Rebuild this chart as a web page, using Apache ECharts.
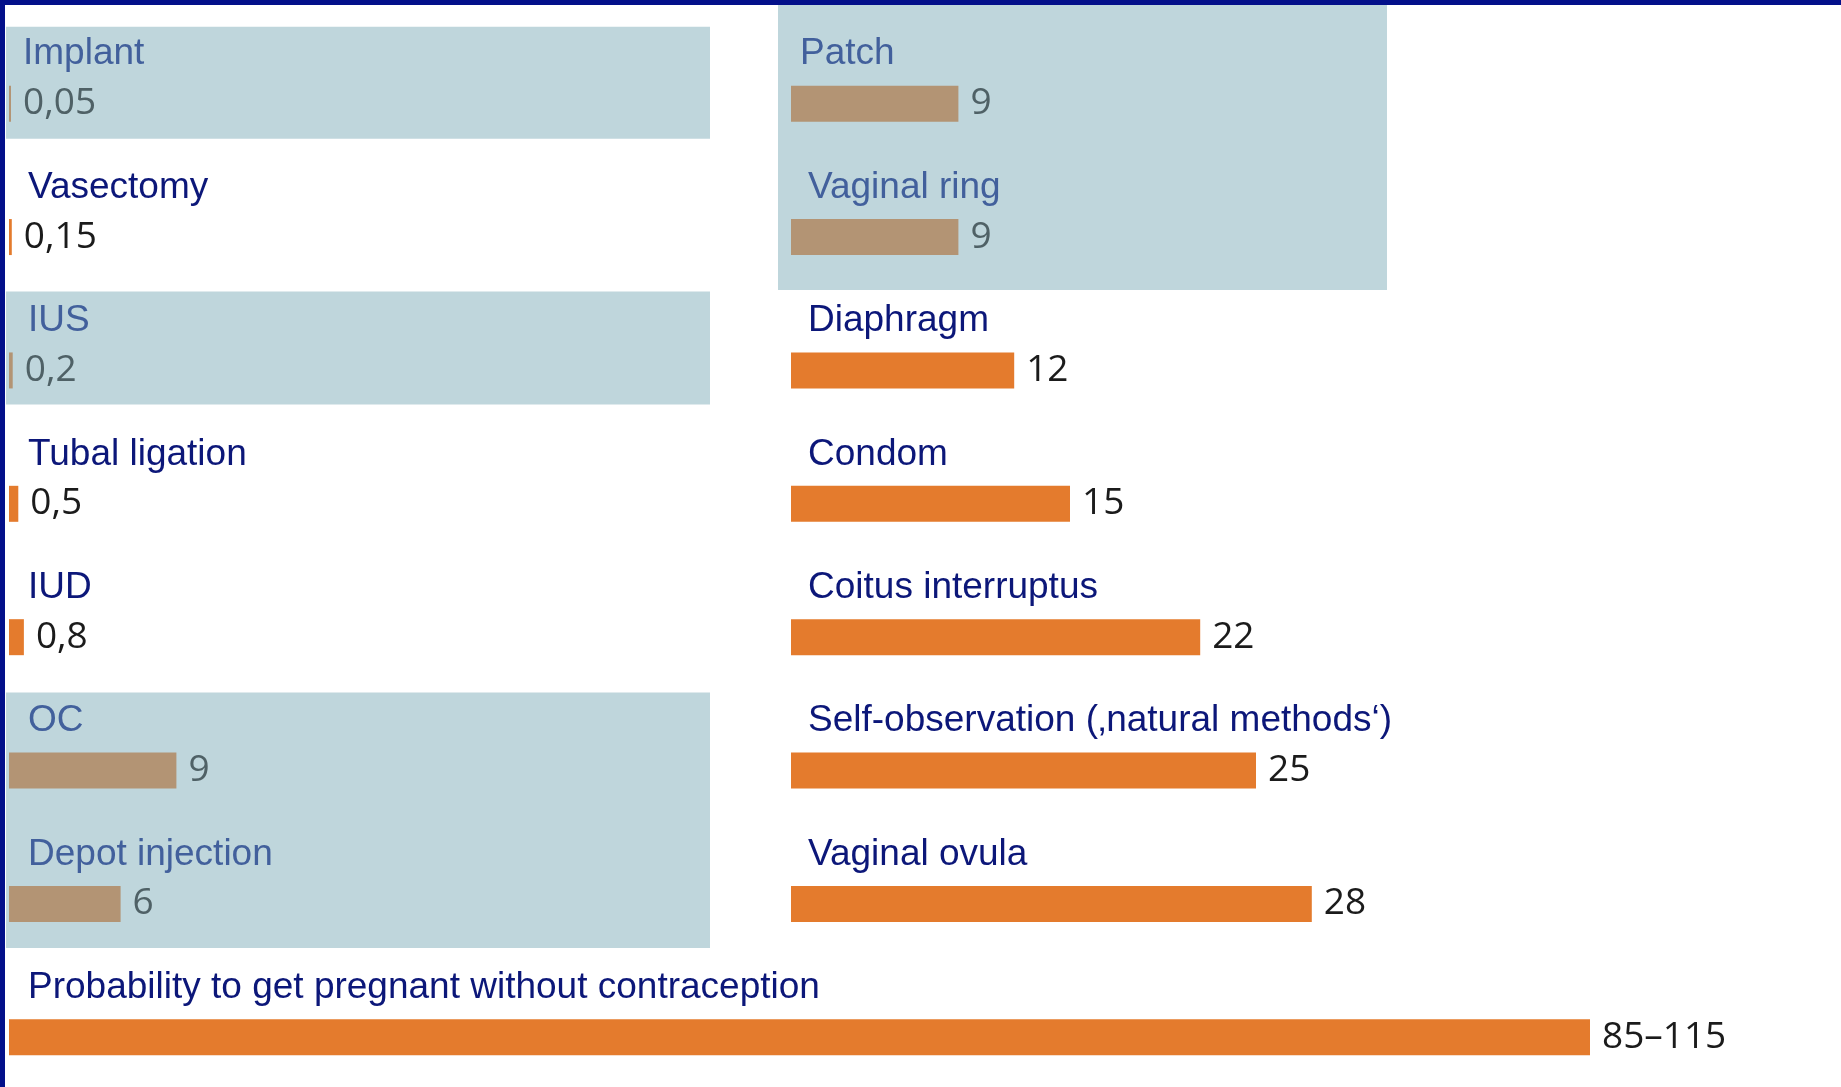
<!DOCTYPE html>
<html>
<head>
<meta charset="utf-8">
<script src="https://cdn.jsdelivr.net/npm/echarts@6/dist/echarts.min.js"></script>
<style>
  html, body { margin: 0; padding: 0; background: #fff; }
  #chart { width: 1841px; height: 1087px; }
</style>
</head>
<body>
<div id="chart"></div>
<script>
// Pearl index per method
const leftMethods = ["Implant", "Vasectomy", "IUS", "Tubal ligation", "IUD", "OC", "Depot injection",
  "Probability to get pregnant without contraception"];
const leftValues = [0.05, 0.15, 0.2, 0.5, 0.8, 9, 6, 85];
const leftValueText = ["0,05", "0,15", "0,2", "0,5", "0,8", "9", "6", "85–115"];

const rightMethods = ["Patch", "Vaginal ring", "Diaphragm", "Condom", "Coitus interruptus",
  "Self-observation (‚natural methods‘)", "Vaginal ovula"];
const rightValues = [9, 9, 12, 15, 22, 25, 28];
const rightValueText = ["9", "9", "12", "15", "22", "25", "28"];

// methods drawn on the light blue background
const hormonalMethods = ["Implant", "IUS", "OC", "Depot injection", "Patch", "Vaginal ring"];

const ORANGE = "#e47b2d";
const TAN = "#b39474";
const BAND = "#bfd6dc";
const NAVY = "#0c1779";
const MUTED = "#42609c";
const FONT = "Liberation Sans, Arial";

// background bands (pixel padding around the rows they cover)
const bands = [
  { axis: 0, first: "Implant", last: "Implant", x0: 6, x1: 710, above: 77, below: 35 },
  { axis: 0, first: "IUS", last: "IUS", x0: 6, x1: 710, above: 79, below: 34 },
  { axis: 0, first: "OC", last: "Depot injection", x0: 6, x1: 710, above: 78, below: 44 },
  { axis: 1, first: "Patch", last: "Vaginal ring", x0: 778, x1: 1387, above: 99, below: 53 },
];

const isHormonal = (name) => hormonalMethods.indexOf(name) >= 0;

const buildData = (names, values) =>
  values.map((v, i) => ({
    value: v,
    itemStyle: { color: isHormonal(names[i]) ? TAN : ORANGE },
    label: { color: isHormonal(names[i]) ? "#4f6166" : "#1b1b1b" },
  }));

// first label of each column sits a little further left than the rest
const categoryAxis = (index, names, margin, shift) => ({
  type: "category",
  gridIndex: index,
  data: names,
  inverse: true,
  axisLine: { show: false },
  axisTick: { show: false },
  splitLine: { show: false },
  axisLabel: {
    inside: true,
    interval: 0,
    margin: margin,
    align: "left",
    verticalAlign: "bottom",
    padding: [0, 0, 31, 0],
    formatter: (name, i) => {
      const style = (isHormonal(name) ? "h" : "n") + (i === 0 ? "0" : "");
      return "{" + style + "|" + name + "}";
    },
    rich: {
      h0: { color: MUTED, fontSize: 37, fontFamily: FONT },
      h: { color: MUTED, fontSize: 37, fontFamily: FONT, padding: [0, 0, 0, shift] },
      n0: { color: NAVY, fontSize: 37, fontFamily: FONT },
      n: { color: NAVY, fontSize: 37, fontFamily: FONT, padding: [0, 0, 0, shift] },
    },
  },
});

const valueLabel = (texts) => ({
  show: true,
  position: "right",
  distance: 12,
  fontSize: 37,
  fontFamily: "Open Sans",
  formatter: (p) => texts[p.dataIndex] || "",
});

const option = {
  animation: false,
  backgroundColor: "#ffffff",
  grid: [
    { left: 9, top: 37, width: 1767, height: 1067, outerBoundsMode: "none" },
    { left: 791, top: 37, width: 930, height: 1067, outerBoundsMode: "none" },
  ],
  xAxis: [
    { type: "value", gridIndex: 0, min: 0, max: 95, show: false },
    { type: "value", gridIndex: 1, min: 0, max: 50, show: false },
  ],
  yAxis: [
    categoryAxis(0, leftMethods, 14, 5),
    categoryAxis(1, rightMethods.concat([""]), 9, 8),
  ],
  series: [
    {
      type: "bar",
      xAxisIndex: 0,
      yAxisIndex: 0,
      barWidth: 36,
      barMinHeight: 2,
      data: buildData(leftMethods, leftValues),
      label: valueLabel(leftValueText),
    },
    {
      type: "bar",
      xAxisIndex: 1,
      yAxisIndex: 1,
      barWidth: 36,
      data: buildData(rightMethods, rightValues),
      label: valueLabel(rightValueText),
    },
  ],
};

const chart = echarts.init(document.getElementById("chart"));
chart.setOption(option);

const drawBands = () => {
  const rects = bands.map((b) => {
    const y0 = Math.max(chart.convertToPixel({ yAxisIndex: b.axis }, b.first) - b.above, 0);
    const y1 = chart.convertToPixel({ yAxisIndex: b.axis }, b.last) + b.below;
    return {
      type: "rect",
      z: -10,
      silent: true,
      shape: { x: b.x0, y: y0, width: b.x1 - b.x0, height: y1 - y0 },
      style: { fill: BAND },
    };
  });
  // dark blue frame on top and left
  rects.push({ type: "rect", z: 10, shape: { x: 0, y: 0, width: 1841, height: 5 }, style: { fill: "#03108a" } });
  rects.push({ type: "rect", z: 10, shape: { x: 0, y: 0, width: 5, height: 1087 }, style: { fill: "#03108a" } });
  chart.setOption({ graphic: rects });
};
drawBands();

window.addEventListener("resize", () => {
  chart.resize();
  drawBands();
});
</script>
</body>
</html>
